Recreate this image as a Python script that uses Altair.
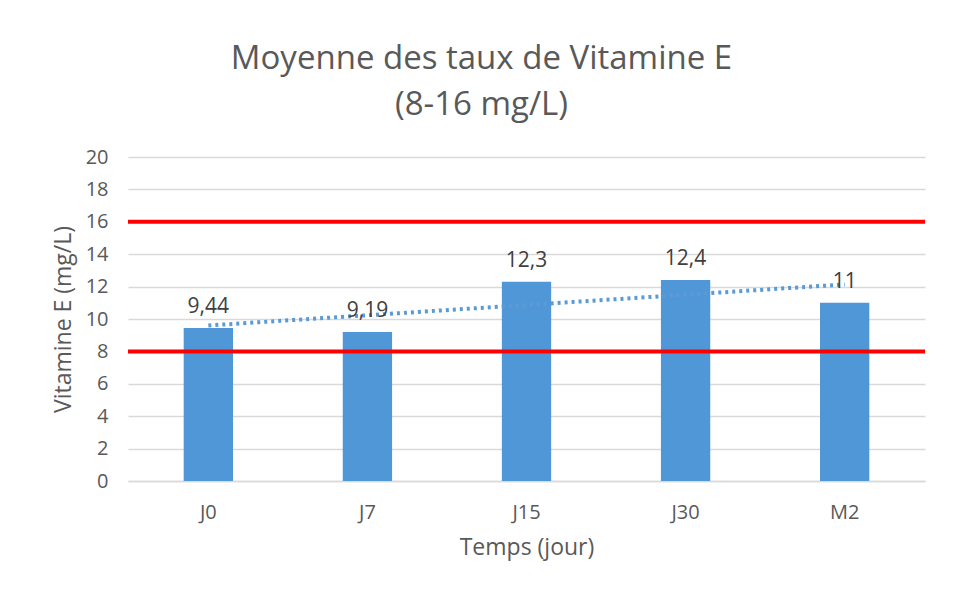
import altair as alt
import pandas as pd

categories = ["J0", "J7", "J15", "J30", "M2"]
values = [9.44, 9.19, 12.3, 12.4, 11]
index = [1, 2, 3, 4, 5]
limits = [8, 16]
y_ticks = [0, 2, 4, 6, 8, 10, 12, 14, 16, 18, 20]

df = pd.DataFrame({"temps": categories, "valeur": values, "idx": index})
df_lim = pd.DataFrame({"valeur": limits})

FONT = "Open Sans"
GREY = "#595959"
BLUE = "#5097D8"

x_enc = alt.X(
    "temps:N",
    sort=categories,
    scale=alt.Scale(paddingInner=0.69, paddingOuter=0.35),
    axis=alt.Axis(
        title="Temps (jour)",
        labelAngle=0,
        labelFont=FONT,
        labelFontSize=20,
        labelColor=GREY,
        labelPadding=21,
        titleFont=FONT,
        titleFontSize=23,
        titleFontWeight="normal",
        titleColor=GREY,
        titlePadding=14,
        ticks=False,
        domainColor="#D9D9D9",
        domainWidth=1.5,
    ),
)

y_enc = alt.Y(
    "valeur:Q",
    scale=alt.Scale(domain=[0, 20]),
    axis=alt.Axis(
        title="Vitamine E (mg/L)",
        values=y_ticks,
        labelOverlap=False,
        labelFont=FONT,
        labelFontSize=20,
        labelColor=GREY,
        labelPadding=20,
        titleFont=FONT,
        titleFontSize=23,
        titleFontWeight="normal",
        titleColor=GREY,
        titlePadding=10,
        ticks=False,
        domain=False,
        gridColor="#D9D9D9",
        gridWidth=1.5,
    ),
)

base = alt.Chart(df)

bars = base.mark_bar(color=BLUE).encode(x=x_enc, y=y_enc)

labels = base.transform_calculate(
    lab="replace(toString(datum.valeur), '.', ',')"
).mark_text(
    font=FONT, fontSize=21, color="#404040", baseline="alphabetic", dy=-15
).encode(
    x=x_enc,
    y=y_enc,
    text="lab:N",
)

trend = base.transform_regression(
    "idx", "valeur", method="linear"
).transform_calculate(
    temps="['J0','J7','J15','J30','M2'][datum.idx - 1]"
).mark_line(
    color="#5B9BD5", strokeWidth=4, strokeDash=[3, 4]
).encode(x=x_enc, y=y_enc)

rules = alt.Chart(df_lim).mark_rule(color="#FF0000", strokeWidth=4).encode(y=y_enc)

chart = alt.layer(bars, rules, trend, labels).properties(
    width=797,
    height=324,
    autosize=alt.AutoSizeParams(type="none"),
    padding={"left": 120, "top": 149, "right": 20, "bottom": 90},
    title=alt.TitleParams(
        text=["Moyenne des taux de Vitamine E", "(8-16 mg/L)"],
        font=FONT,
        fontSize=33,
        fontWeight="normal",
        color=GREY,
        lineHeight=46,
        anchor="middle",
        dx=-45,
        offset=25,
    ),
).configure_view(stroke=None)

chart.save("out.html", embed_options={"renderer": "svg", "actions": False})
